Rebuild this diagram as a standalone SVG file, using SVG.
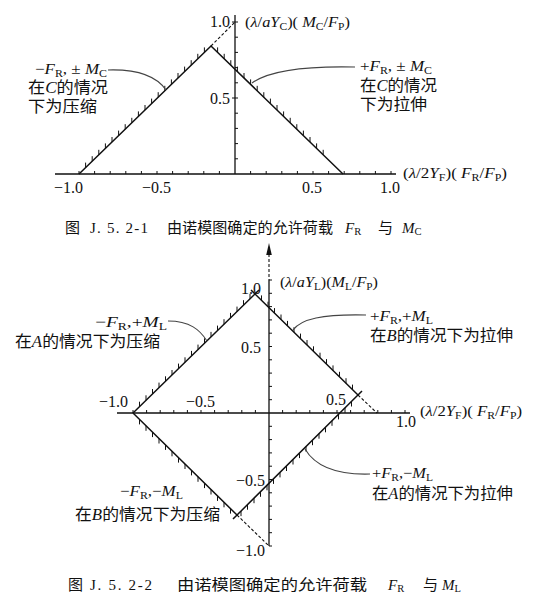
<svg xmlns="http://www.w3.org/2000/svg" width="542" height="598" viewBox="0 0 542 598">
<style>
.ax{stroke:#111;stroke-width:1.3;fill:none}
.tk{stroke:#111;stroke-width:1;fill:none}
.bd{stroke:#111;stroke-width:1.5;fill:none}
.hx{stroke:#111;stroke-width:1;fill:none}
.ds{stroke:#111;stroke-width:1.1;fill:none;stroke-dasharray:3 2}
.ld{stroke:#444;stroke-width:1.1;fill:none}
text{font-family:"Liberation Serif","Noto Sans CJK SC",serif;fill:#111}
.n{font-size:16px}
.l{font-size:15px}
.c{font-size:16px}
.cap{font-size:15px}
.i{font-style:italic}
.s{font-size:10.5px;font-style:normal}
</style>
<rect width="542" height="598" fill="#fff"/>

<!-- ===== Figure J.5.2-1 ===== -->
<g id="fig1-axes">
<path class="ax" d="M55 174H396M235 15V174"/>
<path class="tk" d="M79 174v-3M94.6 174v-3M110.2 174v-3M125.8 174v-3M141.4 174v-3M157 174v-3M172.6 174v-3M188.2 174v-3M203.8 174v-3M219.4 174v-3M250.6 174v-3M266.2 174v-3M281.8 174v-3M297.4 174v-3M313 174v-3M328.6 174v-3M344.2 174v-3M359.8 174v-3M375.4 174v-3M391 174v-3"/>
<path class="tk" d="M235 158.8h3M235 143.6h3M235 128.4h3M235 113.2h3M232 98h6M235 82.8h3M235 67.6h3M235 52.4h3M235 37.2h3M232 22h6"/>
<text class="n" x="210" y="27">1.0</text>
<text class="n" x="210" y="104">0.5</text>
<text class="n" x="54" y="193">−1.0</text>
<text class="n" x="142" y="193">−0.5</text>
<text class="n" x="302" y="193">0.5</text>
<text class="n" x="380" y="193">1.0</text>
<text class="l" x="245" y="27" textLength="105" lengthAdjust="spacingAndGlyphs">(<tspan class="i">λ</tspan>/<tspan class="i">aY</tspan><tspan class="s" dy="3">C</tspan><tspan dy="-3">)( </tspan><tspan class="i">M</tspan><tspan class="s" dy="3">C</tspan><tspan dy="-3">/</tspan><tspan class="i">F</tspan><tspan class="s" dy="3">P</tspan><tspan dy="-3">)</tspan></text>
<text class="l" x="403" y="178" textLength="104" lengthAdjust="spacingAndGlyphs">(<tspan class="i">λ</tspan>/2<tspan class="i">Y</tspan><tspan class="s" dy="3">F</tspan><tspan dy="-3">)( </tspan><tspan class="i">F</tspan><tspan class="s" dy="3">R</tspan><tspan dy="-3">/</tspan><tspan class="i">F</tspan><tspan class="s" dy="3">P</tspan><tspan dy="-3">)</tspan></text>
</g>

<g id="fig1-boundary">
<path class="bd" d="M79 174L211 46L343 174"/>
<path class="ds" d="M211 46L235 22"/>
<path class="hx" d="M85.6 167.6v-5M92.2 161.2v-5M98.8 154.8v-5M105.4 148.4v-5M112 142v-5M118.6 135.6v-5M125.2 129.2v-5M131.8 122.8v-5M138.4 116.4v-5M145 110v-5M151.6 103.6v-5M158.2 97.2v-5M164.8 90.8v-5M171.4 84.4v-5M178 78v-5M184.6 71.6v-5M191.2 65.2v-5M197.8 58.8v-5M204.4 52.4v-5"/>
<path class="hx" d="M217.6 52.4v-5M224.2 58.8v-5M230.8 65.2v-5M237.4 71.6v-5M244 78v-5M250.6 84.4v-5M257.2 90.8v-5M263.8 97.2v-5M270.4 103.6v-5M277 110v-5M283.6 116.4v-5M290.2 122.8v-5M296.8 129.2v-5M303.4 135.6v-5M310 142v-5M316.6 148.4v-5M323.2 154.8v-5"/>
</g>

<g id="fig1-label-left">
<text class="l" x="35" y="74" textLength="72" lengthAdjust="spacingAndGlyphs">−<tspan class="i">F</tspan><tspan class="s" dy="2.5">R</tspan><tspan dy="-2.5">, ± </tspan><tspan class="i">M</tspan><tspan class="s" dy="2.5">C</tspan></text>
<text class="c" x="28" y="93" textLength="80" lengthAdjust="spacingAndGlyphs">在<tspan class="i">C</tspan>的情况</text>
<text class="c" x="28" y="112" textLength="69" lengthAdjust="spacingAndGlyphs">下为压缩</text>
</g>
<g id="fig1-label-right">
<text class="l" x="360" y="71" textLength="72" lengthAdjust="spacingAndGlyphs">+<tspan class="i">F</tspan><tspan class="s" dy="2.5">R</tspan><tspan dy="-2.5">, ± </tspan><tspan class="i">M</tspan><tspan class="s" dy="2.5">C</tspan></text>
<text class="c" x="360" y="91" textLength="77" lengthAdjust="spacingAndGlyphs">在<tspan class="i">C</tspan>的情况</text>
<text class="c" x="360" y="110" textLength="67" lengthAdjust="spacingAndGlyphs">下为拉伸</text>
</g>

<g id="caption1">
<text class="cap" x="65" y="233">图</text>
<text class="cap" x="90" y="233" textLength="58" lengthAdjust="spacing">J. 5. 2-1</text>
<text class="cap" x="167" y="233" textLength="166" lengthAdjust="spacingAndGlyphs">由诺模图确定的允许荷载</text>
<text class="cap" x="345" y="233"><tspan class="i">F</tspan><tspan class="s" dy="2">R</tspan></text>
<text class="cap" x="378" y="233">与</text>
<text class="cap" x="402" y="233"><tspan class="i">M</tspan><tspan class="s" dy="2">C</tspan></text>
</g>

<!-- ===== Figure J.5.2-2 ===== -->
<g id="fig2-axes">
<path class="ax" d="M117 413H410M269 280V546"/>
<path class="ds" d="M269 254V280"/>
<polygon points="269,243 266.2,255 271.8,255" fill="#111"/>
<path class="tk" d="M133 413v-3M146.6 413v-3M160.2 413v-3M173.8 413v-3M187.4 413v-3M201 413v-3M214.6 413v-3M228.2 413v-3M241.8 413v-3M255.4 413v-3M282.6 413v-3M296.2 413v-3M309.8 413v-3M323.4 413v-3M337 413v-3M350.6 413v-3M364.2 413v-3M377.8 413v-3M391.4 413v-3M405 413v-3"/>
<path class="tk" d="M269 399.7h3M269 386.4h3M269 373.1h3M269 359.8h3M269 346.5h3M269 333.2h3M269 319.9h3M269 306.6h3M269 293.3h3M269 280h3M269 426.3h3M269 439.6h3M269 452.9h3M269 466.2h3M269 479.5h3M269 492.8h3M269 506.1h3M269 519.4h3M269 532.7h3M269 546h3"/>
<text class="n" x="241" y="294">1.0</text>
<text class="n" x="241" y="353">0.5</text>
<text class="n" x="99" y="407">−1.0</text>
<text class="n" x="186" y="407">−0.5</text>
<text class="n" x="326" y="405">0.5</text>
<text class="n" x="396" y="427">1.0</text>
<text class="n" x="236" y="486">−0.5</text>
<text class="n" x="236" y="556">−1.0</text>
<text class="l" x="280" y="287" textLength="98" lengthAdjust="spacingAndGlyphs">(<tspan class="i">λ</tspan>/<tspan class="i">aY</tspan><tspan class="s" dy="3">L</tspan><tspan dy="-3">)(</tspan><tspan class="i">M</tspan><tspan class="s" dy="3">L</tspan><tspan dy="-3">/</tspan><tspan class="i">F</tspan><tspan class="s" dy="3">P</tspan><tspan dy="-3">)</tspan></text>
<text class="l" x="420" y="416" textLength="102" lengthAdjust="spacingAndGlyphs">(<tspan class="i">λ</tspan>/2<tspan class="i">Y</tspan><tspan class="s" dy="3">F</tspan><tspan dy="-3">)( </tspan><tspan class="i">F</tspan><tspan class="s" dy="3">R</tspan><tspan dy="-3">/</tspan><tspan class="i">F</tspan><tspan class="s" dy="3">P</tspan><tspan dy="-3">)</tspan></text>
</g>

<g id="fig2-boundary">
<path class="bd" d="M133 413L259 290M251 290L358 395M362 391L233 519M133 413L237 515"/>
<path class="ds" d="M358 395L377 413M237 515L269 546"/>
<path class="hx" d="M139.5 406.7v-5M146 400.3v-5M152.5 394v-5M159 387.6v-5M165.5 381.3v-5M172 375v-5M178.5 368.6v-5M185 362.3v-5M191.5 355.9v-5M198 349.6v-5M204.5 343.3v-5M211 336.9v-5M217.5 330.6v-5M224 324.2v-5M230.5 317.9v-5M237 311.6v-5M243.5 305.2v-5M250 298.9v-5"/>
<path class="hx" d="M261.5 300.4v-5M268 306.7v-5M274.5 313.1v-5M281 319.5v-5M287.5 325.9v-5M294 332.2v-5M300.5 338.6v-5M307 345v-5M313.5 351.3v-5M320 357.7v-5M326.5 364.1v-5M333 370.4v-5M339.5 376.8v-5M346 383.2v-5M352.5 389.6v-5"/>
<path class="hx" d="M351.5 401.5v5M345 407.9v5M338.5 414.4v5M332 420.8v5M325.5 427.3v5M319 433.7v5M312.5 440.2v5M306 446.6v5M299.5 453.1v5M293 459.5v5M286.5 466v5M280 472.4v5M273.5 478.9v5M267 485.3v5M260.5 491.8v5M254 498.2v5M247.5 504.7v5M241 511.1v5"/>
<path class="hx" d="M139.5 419.4v5M146 425.8v5M152.5 432.1v5M159 438.5v5M165.5 444.9v5M172 451.3v5M178.5 457.6v5M185 464v5M191.5 470.4v5M198 476.8v5M204.5 483.1v5M211 489.5v5M217.5 495.9v5M224 502.3v5M230.5 508.6v5"/>
</g>

<g id="fig2-label-ul">
<text class="l" x="95" y="327" textLength="72" lengthAdjust="spacingAndGlyphs">−<tspan class="i">F</tspan><tspan class="s" dy="2.5">R</tspan><tspan dy="-2.5">,+</tspan><tspan class="i">M</tspan><tspan class="s" dy="2.5">L</tspan></text>
<text class="c" x="15" y="347" textLength="145" lengthAdjust="spacingAndGlyphs">在<tspan class="i">A</tspan>的情况下为压缩</text>
</g>
<g id="fig2-label-ur">
<text class="l" x="370" y="321" textLength="63" lengthAdjust="spacingAndGlyphs">+<tspan class="i">F</tspan><tspan class="s" dy="2.5">R</tspan><tspan dy="-2.5">,+</tspan><tspan class="i">M</tspan><tspan class="s" dy="2.5">L</tspan></text>
<text class="c" x="370" y="341" textLength="143" lengthAdjust="spacingAndGlyphs">在<tspan class="i">B</tspan>的情况下为拉伸</text>
</g>
<g id="fig2-label-ll">
<text class="l" x="120" y="496" textLength="63" lengthAdjust="spacingAndGlyphs">−<tspan class="i">F</tspan><tspan class="s" dy="2.5">R</tspan><tspan dy="-2.5">,−</tspan><tspan class="i">M</tspan><tspan class="s" dy="2.5">L</tspan></text>
<text class="c" x="75" y="520" textLength="145" lengthAdjust="spacingAndGlyphs">在<tspan class="i">B</tspan>的情况下为压缩</text>
</g>
<g id="fig2-label-lr">
<text class="l" x="372" y="478" textLength="61" lengthAdjust="spacingAndGlyphs">+<tspan class="i">F</tspan><tspan class="s" dy="2.5">R</tspan><tspan dy="-2.5">,−</tspan><tspan class="i">M</tspan><tspan class="s" dy="2.5">L</tspan></text>
<text class="c" x="372" y="499" textLength="141" lengthAdjust="spacingAndGlyphs">在<tspan class="i">A</tspan>的情况下为拉伸</text>
</g>

<g id="caption2">
<text class="cap" x="68" y="590" font-size="16">图</text>
<text class="cap" x="90" y="590" textLength="62" lengthAdjust="spacing">J. 5. 2-2</text>
<text class="cap" x="177" y="590" textLength="190" lengthAdjust="spacingAndGlyphs">由诺模图确定的允许荷载</text>
<text class="cap" x="388" y="590"><tspan class="i">F</tspan><tspan class="s" dy="2">R</tspan></text>
<text class="cap" x="423" y="590">与</text>
<text class="cap" x="442" y="590"><tspan class="i">M</tspan><tspan class="s" dy="2">L</tspan></text>
</g>

<g id="connectors">
<path class="ld" d="M108 70C140 69 157 77 166 90"/>
<path class="ld" d="M355 67C310 66 270 70 252 83"/>
<path class="ld" d="M168 321C190 321 200 330 207 341"/>
<path class="ld" d="M366 315C322 314 301 319 293 330"/>
<path class="ld" d="M370 474C336 475 315 466 305 449"/>
</g>
</svg>
